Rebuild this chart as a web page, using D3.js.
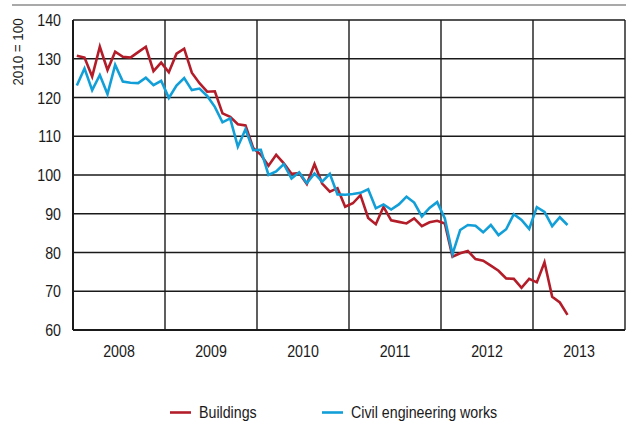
<!DOCTYPE html>
<html>
<head>
<meta charset="utf-8">
<script src="https://cdn.jsdelivr.net/npm/d3@7"></script>
<style>
  body { margin: 0; background: #fff; }
  text { font-family: "Liberation Sans", Arial, sans-serif; fill: #1a1a1a; }
</style>
</head>
<body>
<script>
// monthly index, 2010 = 100, Jan 2008 .. May 2013
var years = ["2008", "2009", "2010", "2011", "2012", "2013"];
var yTicks = [60, 70, 80, 90, 100, 110, 120, 130, 140];

var buildings = [
  130.8, 130.3, 125.4, 133.1, 127.1, 131.8, 130.5, 130.3, 131.7, 133.1, 126.8, 129.0,
  126.5, 131.3, 132.6, 126.4, 123.7, 121.5, 121.6, 115.9, 115.0, 113.1, 112.8, 107.0,
  105.2, 102.4, 105.2, 103.0, 100.3, 100.5, 97.7, 102.8, 97.8, 95.7, 96.6, 91.8,
  92.7, 94.8, 88.9, 87.3, 91.8, 88.3, 87.9, 87.5, 88.8, 86.8, 87.8, 88.2,
  87.5, 78.9, 79.8, 80.4, 78.3, 77.9, 76.6, 75.3, 73.3, 73.2, 70.9, 73.2,
  72.3, 77.5, 68.6, 67.1, 63.9
];
var civil = [
  123.1, 127.5, 121.9, 125.8, 120.9, 128.4, 124.1, 123.8, 123.7, 125.1, 123.2, 124.3,
  119.9, 123.1, 125.0, 121.9, 122.3, 120.4, 117.6, 113.6, 114.6, 107.3, 111.8, 106.4,
  106.5, 100.0, 100.9, 102.8, 99.1, 100.7, 97.9, 100.4, 98.3, 100.3, 95.0, 94.9,
  95.1, 95.4, 96.3, 91.4, 92.4, 91.1, 92.4, 94.4, 92.9, 89.3, 91.5, 93.0,
  88.8, 79.6, 85.8, 87.1, 86.9, 85.2, 87.1, 84.5, 86.0, 89.9, 88.4, 86.1,
  91.7, 90.5, 86.8, 89.1, 87.1
];

var seriesNames = ["Buildings", "Civil engineering works"];
var seriesColors = ["#b31d2a", "#129fd8"];

var width = 626, height = 437;
var pLeft = 73, pRight = 625, pTop = 20, pBottom = 330;
var squeeze = 0.89; // the original uses a condensed face

var svg = d3.select("body").append("svg")
    .attr("width", width)
    .attr("height", height);

// top rule
svg.append("line")
    .attr("x1", 12).attr("x2", width)
    .attr("y1", 5).attr("y2", 5)
    .attr("stroke", "#8c8c8c").attr("stroke-width", 1.5);

var x = d3.scaleLinear().domain([0, 72]).range([pLeft, pRight]); // months since Jan 2008
var y = d3.scaleLinear().domain([60, 140]).range([pBottom, pTop]);

function label(px, py, str, anchor, size) {
    return svg.append("text")
        .attr("transform", "translate(" + px + "," + py + ") scale(" + squeeze + ",1)")
        .attr("text-anchor", anchor)
        .style("font-size", size + "px")
        .text(str);
}

// horizontal grid
svg.append("g").selectAll("line")
    .data(yTicks).enter().append("line")
    .attr("x1", pLeft).attr("x2", pRight)
    .attr("y1", function(d) { return y(d); })
    .attr("y2", function(d) { return y(d); })
    .attr("stroke", "#1a1a1a")
    .attr("stroke-width", function(d) { return d == 60 ? 2 : 1.4; });

// vertical grid (year boundaries)
svg.append("g").selectAll("line")
    .data(d3.range(0, years.length + 1)).enter().append("line")
    .attr("x1", function(d) { return x(d * 12); })
    .attr("x2", function(d) { return x(d * 12); })
    .attr("y1", pTop).attr("y2", pBottom)
    .attr("stroke", "#1a1a1a")
    .attr("stroke-width", function(d) { return d == 0 ? 2 : 1.4; });

yTicks.forEach(function(d) { label(61, y(d) + 6, d, "end", 16); });
years.forEach(function(d, i) { label(x(i * 12 + 6), 357, d, "middle", 16); });

svg.append("text")
    .attr("transform", "translate(23,52) rotate(-90) scale(" + squeeze + ",1)")
    .attr("text-anchor", "middle")
    .style("font-size", "15px")
    .text("2010 = 100");

var line = d3.line()
    .x(function(d, i) { return x(i + 0.5); })
    .y(function(d) { return y(d); });

[buildings, civil].forEach(function(s, k) {
    svg.append("path")
        .datum(s)
        .attr("d", line)
        .attr("fill", "none")
        .attr("stroke", seriesColors[k])
        .attr("stroke-width", 2.6)
        .attr("stroke-linejoin", "miter");
});

// legend
var legendX = [170, 322];
seriesNames.forEach(function(name, k) {
    svg.append("line")
        .attr("x1", legendX[k]).attr("x2", legendX[k] + 21)
        .attr("y1", 412.5).attr("y2", 412.5)
        .attr("stroke", seriesColors[k])
        .attr("stroke-width", 2.6);
    label(legendX[k] + 29, 418, name, "start", 16);
});
</script>
</body>
</html>
